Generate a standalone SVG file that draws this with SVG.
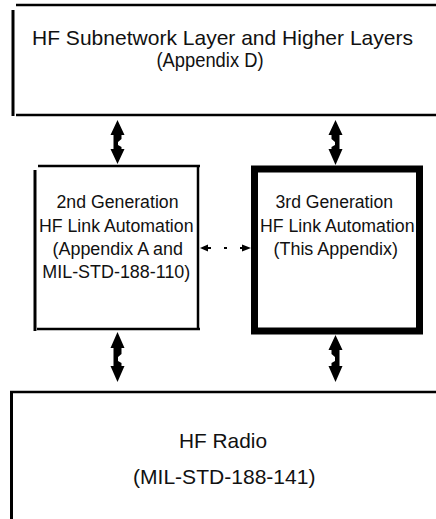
<svg xmlns="http://www.w3.org/2000/svg" width="436" height="519" viewBox="0 0 436 519">
<style>
.edge{stroke:#000;stroke-width:2.5;fill:none}
.edgeL{stroke:#000;stroke-width:3;fill:none}
.thick{stroke:#000;stroke-width:7;fill:none}
text{font-family:"Liberation Sans",Arial,sans-serif;fill:#111}
.big{font-size:21px}
.mid{font-size:17.5px}
.low{font-size:21px}
.arr{fill:#000;stroke:none}
.dot{stroke:#000;stroke-width:2.2;fill:none;stroke-dasharray:3 13}
</style>
<rect width="436" height="519" fill="#fff"/>
<g id="higher-layers">
<line class="edge" x1="16" y1="5" x2="436" y2="5"/>
<line class="edgeL" x1="13" y1="10" x2="13" y2="116"/>
<line class="edge" x1="16" y1="115" x2="436" y2="115"/>
<text class="big" x="32" y="45" textLength="381" lengthAdjust="spacingAndGlyphs">HF Subnetwork Layer and Higher Layers</text>
<text class="big" x="156.5" y="66.5" textLength="107" lengthAdjust="spacingAndGlyphs">(Appendix D)</text>
</g>
<g id="gen2">
<line class="edge" x1="38" y1="166" x2="200" y2="166"/>
<line class="edge" x1="198" y1="166" x2="198" y2="329"/>
<line class="edge" x1="37" y1="329" x2="200" y2="329"/>
<line class="edgeL" x1="35" y1="170" x2="35" y2="331"/>
<text class="mid" x="56.5" y="208.3" textLength="122" lengthAdjust="spacingAndGlyphs">2nd Generation</text>
<text class="mid" x="39" y="231.6" textLength="154.5" lengthAdjust="spacingAndGlyphs">HF Link Automation</text>
<text class="mid" x="52.5" y="254.9" textLength="130.5" lengthAdjust="spacingAndGlyphs">(Appendix A and</text>
<text class="mid" x="42.3" y="278.2" textLength="148" lengthAdjust="spacingAndGlyphs">MIL-STD-188-110)</text>
</g>
<g id="gen3">
<rect class="thick" x="254.5" y="169" width="165" height="162"/>
<text class="mid" x="275.5" y="208.3" textLength="117.5" lengthAdjust="spacingAndGlyphs">3rd Generation</text>
<text class="mid" x="260" y="231.6" textLength="154.5" lengthAdjust="spacingAndGlyphs">HF Link Automation</text>
<text class="mid" x="273.5" y="254.5" textLength="124.5" lengthAdjust="spacingAndGlyphs">(This Appendix)</text>
</g>
<g id="hf-radio">
<line class="edge" x1="10" y1="392" x2="436" y2="392"/>
<line class="edgeL" x1="11.5" y1="392" x2="11.5" y2="519"/>
<text class="low" x="179" y="448.3" textLength="88" lengthAdjust="spacingAndGlyphs">HF Radio</text>
<text class="low" x="133" y="484.3" textLength="182.5" lengthAdjust="spacingAndGlyphs">(MIL-STD-188-141)</text>
</g>
<g id="connectors">
<path class="arr" d="M117.5,120 L124.5,135 L121.5,135 L121.5,139 L118,142 L118,145 L121.5,147 L121.5,149 L124.5,149 L117.5,164 L110.5,149 L113.5,149 L113.5,135 L110.5,135 Z"/>
<path class="arr" d="M335.5,120 L342.5,135 L339.5,135 L339.5,149 L342.5,149 L335.5,165 L328.5,149 L331.5,149 L331.5,147 L335,145 L335,142 L331.5,139 L331.5,135 L328.5,135 Z"/>
<path class="arr" d="M117.5,332 L124.5,348 L121.5,348 L121.5,354 L118,357 L118,361 L121.5,363 L121.5,366 L124.5,366 L117.5,382 L110.5,366 L113.5,366 L113.5,348 L110.5,348 Z"/>
<path class="arr" d="M335.5,335 L342.5,350 L339.5,350 L339.5,366 L342.5,366 L335.5,382 L328.5,366 L331.5,366 L331.5,363 L335,361 L335,357 L331.5,354 L331.5,350 L328.5,350 Z"/>
<line class="dot" x1="208" y1="248" x2="244" y2="248"/>
<path class="arr" d="M200,248 L208,244.5 L208,251.5 Z"/>
<path class="arr" d="M251,248 L242,244.5 L242,251.5 Z"/>
</g>
</svg>
